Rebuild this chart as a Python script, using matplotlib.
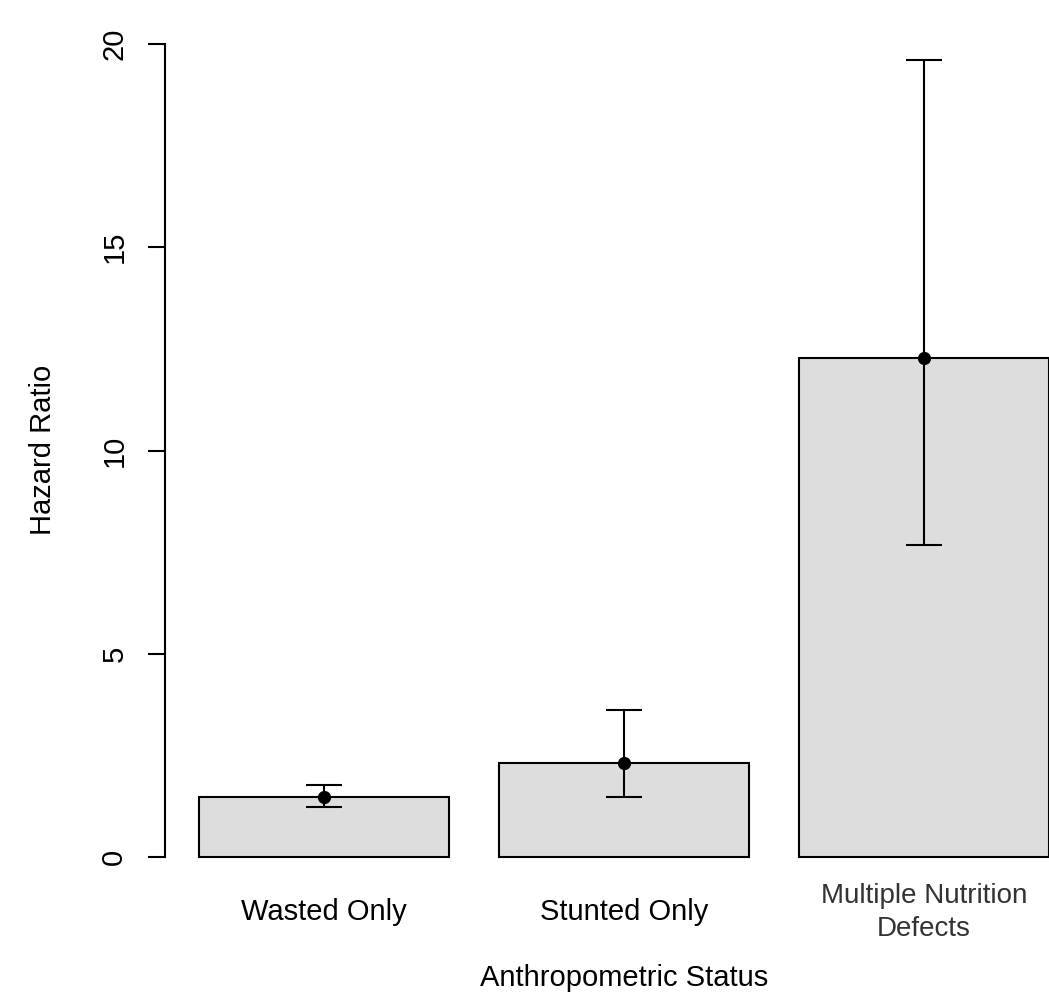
import matplotlib
matplotlib.use('Agg')
import matplotlib.pyplot as plt

# hazard ratios with 95% CI
categories = ['Wasted Only', 'Stunted Only', 'Multiple Nutrition\nDefects']
hazard_ratio = [1.47, 2.31, 12.27]
ci_lower = [1.23, 1.48, 7.68]
ci_upper = [1.77, 3.62, 19.6]
y_ticks = [0, 5, 10, 15, 20]

plt.rcParams['font.family'] = ['Liberation Sans', 'DejaVu Sans']
FS = 21

W, H = 1049, 1001
fig = plt.figure(figsize=(W / 100, H / 100), dpi=100)

# R-like plot region: x usr [0.064, 3.736], y usr [-0.8, 20.8]
left_px, right_px = 165, 1083
top_px, bottom_px = 11.5, 889.5
ax = fig.add_axes([left_px / W, 1 - bottom_px / H,
                   (right_px - left_px) / W, (bottom_px - top_px) / H])

xpos = [0.7, 1.9, 3.1]
ax.bar(xpos, hazard_ratio, width=1.0, color='#dddddd', edgecolor='black',
       linewidth=1.5, zorder=2)

yerr = [[h - l for h, l in zip(hazard_ratio, ci_lower)],
        [u - h for h, u in zip(hazard_ratio, ci_upper)]]
ax.errorbar(xpos, hazard_ratio, yerr=yerr, fmt='o', color='black',
            markersize=8.5, elinewidth=1.5, capsize=13, capthick=1.5, zorder=3)

ax.set_xlim(0.064, 3.736)
ax.set_ylim(-0.8, 20.8)

for s in ['top', 'right', 'bottom']:
    ax.spines[s].set_visible(False)
ax.spines['left'].set_bounds(0, 20)
ax.spines['left'].set_linewidth(1.5)

ax.set_yticks(y_ticks)
ax.set_yticklabels([str(t) for t in y_ticks], rotation=90, va='center',
                   ha='center', fontsize=FS)
ax.tick_params(axis='y', length=12.5, width=1.5, pad=24)

ax.set_xticks(xpos)
ax.set_xticklabels(categories, fontsize=FS, va='center', linespacing=1.25)
ax.tick_params(axis='x', length=0, pad=16.5)
lab3 = ax.get_xticklabels()[2]
lab3.set_color('#333333')
lab3.set_fontsize(20)
lab3.set_linespacing(1.35)

fig.text(43 / W, 1 - 450 / H, 'Hazard Ratio', rotation=90, fontsize=FS,
         ha='center', va='center')
fig.text(624 / W, 1 - 978 / H, 'Anthropometric Status', fontsize=FS,
         ha='center', va='center')

fig.savefig('out.png', dpi=100)
